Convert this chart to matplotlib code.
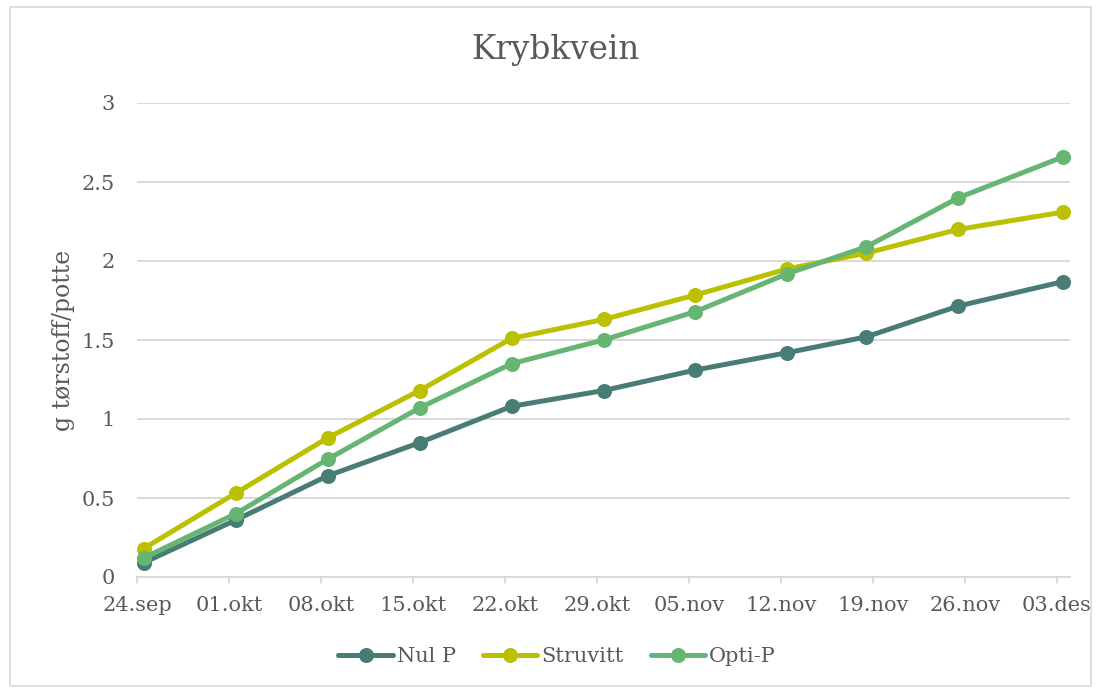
import numpy as np
import matplotlib
matplotlib.use("Agg")
import matplotlib.pyplot as plt
from matplotlib.patches import Rectangle

# measuring dates (Excel date axis, one point per day slot)
dates = np.array(["2019-09-24", "2019-10-01", "2019-10-08", "2019-10-15",
                  "2019-10-22", "2019-10-29", "2019-11-05", "2019-11-12",
                  "2019-11-18", "2019-11-25", "2019-12-03"], dtype="datetime64[D]")

nul_p = [0.09, 0.36, 0.64, 0.85, 1.08, 1.18, 1.31, 1.42, 1.52, 1.715, 1.87]
struvitt = [0.18, 0.53, 0.88, 1.18, 1.51, 1.63, 1.785, 1.95, 2.05, 2.20, 2.31]
opti_p = [0.12, 0.40, 0.745, 1.07, 1.35, 1.50, 1.68, 1.92, 2.09, 2.40, 2.66]

tick_labels = ["24.sep", "01.okt", "08.okt", "15.okt", "22.okt", "29.okt",
               "05.nov", "12.nov", "19.nov", "26.nov", "03.des"]

title = "Krybkvein"
ylabel = "g tørstoff/potte"

plt.rcParams["font.family"] = ["DejaVu Serif"]
text_col = "#595959"
grid_col = "#D9D9D9"

fig = plt.figure(figsize=(11.01, 6.90), dpi=100)
ax = fig.add_axes([137 / 1101, 1 - 577 / 690, (1070 - 137) / 1101, (577 - 103) / 690])

# points sit in the middle of their day slot
x = dates + np.timedelta64(12, "h")

series = [("Nul P", nul_p, "#477D74"),
          ("Struvitt", struvitt, "#BBC000"),
          ("Opti-P", opti_p, "#66B573")]
for name, vals, col in series:
    ax.plot(x, vals, color=col, lw=3.6, marker="o", markersize=9.8,
            solid_capstyle="round", label=name, clip_on=False, zorder=3)

start = dates[0]
ticks = start + np.arange(0, 71, 7).astype("timedelta64[D]")
ax.set_xlim(start, start + np.timedelta64(71, "D"))
ax.set_xticks(ticks)
ax.set_xticklabels(tick_labels)
ax.set_ylim(0, 3)
ax.set_yticks([0, 0.5, 1, 1.5, 2, 2.5, 3])
ax.set_yticklabels(["0", "0.5", "1", "1.5", "2", "2.5", "3"])

ax.grid(axis="y", color=grid_col, lw=1.4)
ax.set_axisbelow(True)
for s in ["left", "right", "top"]:
    ax.spines[s].set_visible(False)
ax.spines["bottom"].set_color(grid_col)
ax.spines["bottom"].set_linewidth(1.4)
ax.tick_params(axis="x", colors=grid_col, length=4.5, width=1.4, pad=9,
               labelcolor=text_col, labelsize=15)
ax.tick_params(axis="y", length=0, pad=16, labelcolor=text_col, labelsize=15)

ax.set_ylabel(ylabel, fontsize=17, color=text_col)
ax.yaxis.set_label_coords(-0.0665, 0.5)

fig.text(555 / 1101, 1 - 50 / 690, title, ha="center", va="center",
         fontsize=23.5, color=text_col)

leg = fig.legend(loc="center", bbox_to_anchor=(557 / 1101, 1 - 657 / 690),
                 ncol=3, frameon=False, fontsize=15, handlelength=2.6,
                 handletextpad=0.2, columnspacing=1.3)
for t in leg.get_texts():
    t.set_color(text_col)

fig.patches.append(Rectangle((10 / 1101, 4 / 690), 1081 / 1101, 679 / 690,
                             transform=fig.transFigure, fill=False,
                             edgecolor=grid_col, lw=1.2))

fig.savefig("out.png", dpi=100)
